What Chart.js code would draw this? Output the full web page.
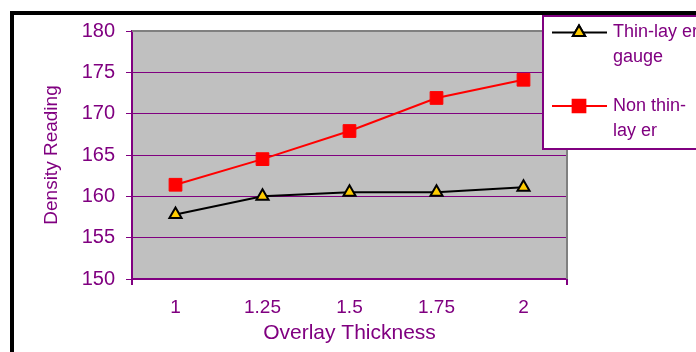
<!DOCTYPE html>
<html>
<head>
<meta charset="utf-8">
<script src="https://cdn.jsdelivr.net/npm/chart.js@4/dist/chart.umd.min.js"></script>
<style>
  html, body { margin: 0; padding: 0; background: #ffffff; }
  #wrap { width: 696px; height: 352px; }
</style>
</head>
<body>
<div id="wrap"><canvas id="chart" width="696" height="352"></canvas></div>
<script>
// Overlay thickness categories (x axis)
const thickness = ['1', '1.25', '1.5', '1.75', '2'];
// Density readings per gauge
const thinLayerGauge = [157.8, 160.0, 160.5, 160.5, 161.1];
const nonThinLayer = [161.4, 164.5, 167.9, 171.9, 174.1];
// Legend text, wrapped the way it is drawn
const thinLayerLabel = ['Thin-lay er', 'gauge'];
const nonThinLabel = ['Non thin-', 'lay er'];
// Value axis ticks
const yTicks = [150, 155, 160, 165, 170, 175, 180];

const PURPLE = '#800080';
const FONT = 'Arial, "Liberation Sans", sans-serif';

// White page, black frame and grey plot background
const backdrop = {
  id: 'backdrop',
  beforeDraw(chart) {
    const { ctx, chartArea: a } = chart;
    ctx.save();
    ctx.fillStyle = '#ffffff';
    ctx.fillRect(0, 0, chart.width, chart.height);
    ctx.strokeStyle = '#000000';
    ctx.lineWidth = 4;
    ctx.strokeRect(12, 13, chart.width + 20, chart.height + 20);
    ctx.fillStyle = '#C0C0C0';
    ctx.fillRect(a.left, a.top, a.right - a.left, a.bottom - a.top);
    ctx.restore();
  },
  beforeDatasetsDraw(chart) {
    const { ctx, chartArea: a } = chart;
    ctx.save();
    // grey top and right edge of the plot
    ctx.strokeStyle = '#808080';
    ctx.lineWidth = 2;
    ctx.beginPath();
    ctx.moveTo(a.left, a.top);
    ctx.lineTo(a.right, a.top);
    ctx.lineTo(a.right, a.bottom);
    ctx.stroke();
    // small tick marks at both ends of the category axis
    ctx.strokeStyle = PURPLE;
    ctx.lineWidth = 2;
    ctx.beginPath();
    ctx.moveTo(a.left, a.bottom);
    ctx.lineTo(a.left, a.bottom + 6);
    ctx.moveTo(a.right, a.bottom);
    ctx.lineTo(a.right, a.bottom + 6);
    ctx.stroke();
    ctx.restore();
  }
};

// Boxed legend at the upper right with wrapped labels
const boxLegend = {
  id: 'boxLegend',
  afterDraw(chart) {
    const { ctx } = chart;
    const a = chart.chartArea;
    const left = a.right - 24;
    const top = 16;
    const bottom = 149;
    ctx.save();
    ctx.fillStyle = '#ffffff';
    ctx.fillRect(left, top, chart.width - left + 10, bottom - top);
    ctx.strokeStyle = PURPLE;
    ctx.lineWidth = 2;
    ctx.strokeRect(left, top, chart.width - left + 10, bottom - top);

    const entries = [
      { ds: chart.data.datasets[0], lines: thinLayerLabel, y: 32.5 },
      { ds: chart.data.datasets[1], lines: nonThinLabel, y: 106 }
    ];
    ctx.font = '18px ' + FONT;
    ctx.textBaseline = 'middle';
    ctx.textAlign = 'left';
    entries.forEach(e => {
      ctx.strokeStyle = e.ds.borderColor;
      ctx.lineWidth = 2;
      ctx.beginPath();
      ctx.moveTo(left + 9, e.y);
      ctx.lineTo(left + 64, e.y);
      ctx.stroke();
      Chart.helpers.drawPoint(ctx, {
        pointStyle: e.ds.pointStyle,
        radius: e.ds.pointRadius,
        borderWidth: e.ds.pointBorderWidth
      }, left + 36, e.y);
      ctx.fillStyle = e.ds.pointBackgroundColor;
      ctx.strokeStyle = e.ds.pointBorderColor;
      ctx.lineWidth = e.ds.pointBorderWidth;
      ctx.fill();
      ctx.stroke();
      ctx.fillStyle = PURPLE;
      e.lines.forEach((t, i) => ctx.fillText(t, left + 70, e.y + i * 25));
    });
    ctx.restore();
  }
};

new Chart(document.getElementById('chart'), {
  type: 'line',
  data: {
    labels: thickness,
    datasets: [
      {
        label: thinLayerLabel.join(' '),
        data: thinLayerGauge,
        borderColor: '#000000',
        borderWidth: 2,
        pointStyle: 'triangle',
        pointRadius: 7,
        pointBorderWidth: 2,
        pointBackgroundColor: '#FFCC00',
        pointBorderColor: '#000000',
        tension: 0
      },
      {
        label: nonThinLabel.join(' '),
        data: nonThinLayer,
        borderColor: '#FF0000',
        borderWidth: 2,
        pointStyle: 'rect',
        pointRadius: 9,
        pointBorderWidth: 1,
        pointBackgroundColor: '#FF0000',
        pointBorderColor: '#FF0000',
        tension: 0
      }
    ]
  },
  options: {
    responsive: false,
    animation: false,
    layout: { padding: { left: 20, top: 31, right: 129, bottom: 0 } },
    plugins: { legend: { display: false }, tooltip: { enabled: false } },
    scales: {
      x: {
        type: 'category',
        offset: true,
        grid: { display: false, drawTicks: false },
        border: { display: true, color: PURPLE, width: 2 },
        ticks: { color: PURPLE, font: { family: FONT, size: 19 }, padding: 17, maxRotation: 0 },
        title: {
          display: true,
          text: 'Overlay Thickness',
          color: PURPLE,
          font: { family: FONT, size: 21 },
          padding: { top: 0, bottom: 6 }
        },
        afterFit(scale) { scale.height = 73; }
      },
      y: {
        min: 150,
        max: 180,
        afterBuildTicks(scale) { scale.ticks = yTicks.map(v => ({ value: v })); },
        grid: { color: PURPLE, lineWidth: 1, tickLength: 6, drawTicks: true },
        border: { display: true, color: PURPLE, width: 2 },
        ticks: { color: PURPLE, font: { family: FONT, size: 20 }, padding: 11 },
        title: {
          display: true,
          text: 'Density Reading',
          color: PURPLE,
          font: { family: FONT, size: 19 },
          padding: { top: 20, bottom: 0 }
        },
        afterFit(scale) { scale.width = 112; }
      }
    }
  },
  plugins: [backdrop, boxLegend]
});
</script>
</body>
</html>
